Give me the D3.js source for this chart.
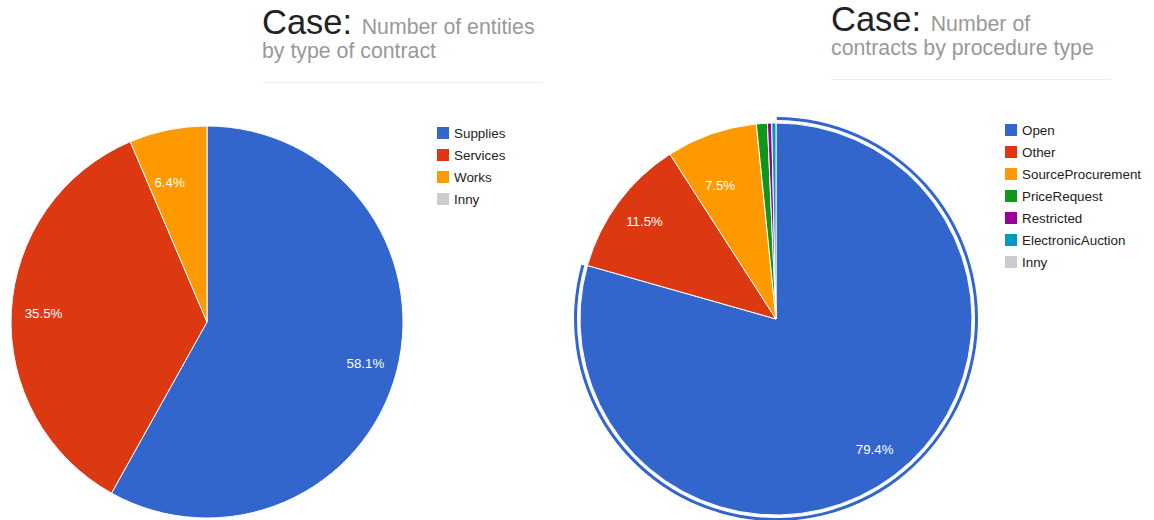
<!DOCTYPE html>
<html>
<head>
<meta charset="utf-8">
<script src="https://cdn.jsdelivr.net/npm/d3@7"></script>
<style>
  html, body { margin: 0; padding: 0; background: #fff; }
  svg { display: block; font-family: "Liberation Sans", Arial, sans-serif; }
</style>
</head>
<body>
<svg id="chart" width="1154" height="520"></svg>
<script>
// ---- Data ----
const entityCategories = ["Supplies", "Services", "Works", "Inny"];
const entityValues = [58.1, 35.5, 6.4, 0];

const procedureCategories = ["Open", "Other", "SourceProcurement", "PriceRequest", "Restricted", "ElectronicAuction", "Inny"];
const procedureValues = [79.4, 11.5, 7.5, 0.9, 0.35, 0.35, 0];

const palette = ["#3366cc", "#dc3912", "#ff9900", "#109618", "#990099", "#0099c6"];
const innyColor = "#cccccc";

const titleMain = "Case:";
const leftSubtitle = ["Number of entities", "by type of contract"];
const rightSubtitle = ["Number of", "contracts by procedure type"];

// ---- Drawing ----
const svg = d3.select("#chart");

function colorFor(cats) {
  return d3.scaleOrdinal()
    .domain(cats)
    .range(cats.map((c, i) => c === "Inny" ? innyColor : palette[i % palette.length]));
}

function drawTitle(x, y1, y2, lineY, sub) {
  const g = svg.append("g");
  const t = g.append("text").attr("x", x).attr("y", y1);
  t.append("tspan").attr("font-size", 34.5).attr("fill", "#222").text(titleMain + " ");
  t.append("tspan").attr("font-size", 21.3).attr("fill", "#999").text(sub[0]);
  g.append("text").attr("x", x).attr("y", y2)
    .attr("font-size", 21.3).attr("fill", "#999").text(sub[1]);
  g.append("line").attr("x1", x).attr("x2", x + 280)
    .attr("y1", lineY + 0.5).attr("y2", lineY + 0.5)
    .attr("stroke", "#eeeeee").attr("stroke-width", 1);
}

function drawPie(cats, vals, cx, cy, r, highlight) {
  const color = colorFor(cats);
  const data = cats.map((c, i) => ({ cat: c, value: vals[i] }));
  const pie = d3.pie().sort(null).value(d => d.value);
  const arcs = pie(data);
  const total = d3.sum(vals);
  const arc = d3.arc().innerRadius(0).outerRadius(r);
  const g = svg.append("g").attr("transform", `translate(${cx},${cy})`);

  g.selectAll("path.slice")
    .data(arcs.filter(a => a.value > 0))
    .join("path")
    .attr("class", "slice")
    .attr("d", arc)
    .attr("fill", d => color(d.data.cat))
    .attr("stroke", "#fff")
    .attr("stroke-width", 1);

  if (highlight != null) {
    const a = arcs[highlight];
    const ring = d3.arc().innerRadius(r + 3).outerRadius(r + 6);
    g.append("path")
      .attr("d", ring({ startAngle: a.startAngle + 0.004, endAngle: a.endAngle - 0.004 }))
      .attr("fill", color(a.data.cat));
  }

  g.selectAll("text.pct")
    .data(arcs.filter(a => a.value / total >= 0.05))
    .join("text")
    .attr("class", "pct")
    .attr("transform", d => {
      const frac = d.value / total;
      const small = frac < 0.1;
      const lr = (small ? 0.74 : 0.835) * r;
      const mid = (d.startAngle + d.endAngle) / 2 - (small ? 0.06 : 0);
      const c = d3.arc().innerRadius(lr).outerRadius(lr).centroid({ startAngle: mid, endAngle: mid });
      return `translate(${c[0]},${c[1]})`;
    })
    .attr("text-anchor", "middle")
    .attr("dy", "0.35em")
    .attr("font-size", 13.3)
    .attr("fill", "#fff")
    .text(d => d3.format(".1f")(d.value / total * 100) + "%");
}

function drawLegend(cats, x, y) {
  const color = colorFor(cats);
  const g = svg.append("g").attr("transform", `translate(${x},${y})`);
  const rows = g.selectAll("g").data(cats).join("g")
    .attr("transform", (d, i) => `translate(0,${i * 22})`);
  rows.append("rect").attr("x", 0).attr("y", -6).attr("width", 12).attr("height", 12)
    .attr("fill", d => color(d));
  rows.append("text").attr("x", 17).attr("dy", "0.35em")
    .attr("font-size", 13.4).attr("fill", "#222").text(d => d);
}

drawTitle(262, 34, 58, 82, leftSubtitle);
drawTitle(831, 31, 55, 79, rightSubtitle);

drawPie(entityCategories, entityValues, 207, 322, 196, null);
drawPie(procedureCategories, procedureValues, 776, 319, 196, 0);

drawLegend(entityCategories, 437, 133);
drawLegend(procedureCategories, 1005, 130);
</script>
</body>
</html>
